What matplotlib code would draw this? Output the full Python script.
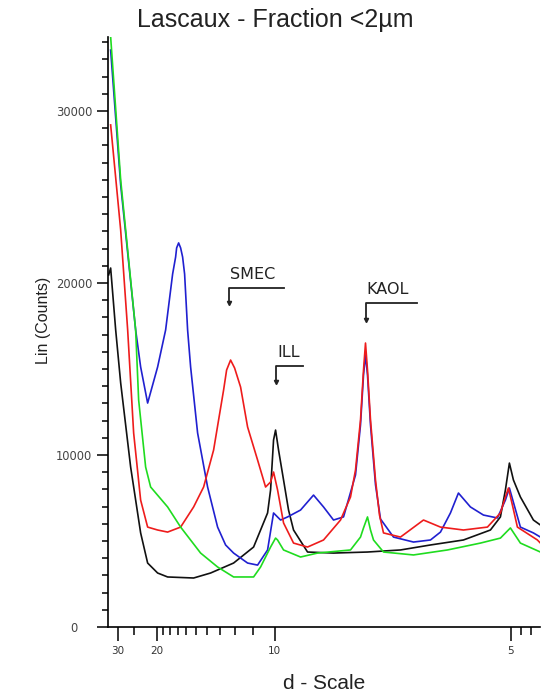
import numpy as np
import matplotlib
matplotlib.use("Agg")
import matplotlib.pyplot as plt
from matplotlib.ticker import FixedLocator, NullFormatter

# XRD patterns, x in degrees 2-theta (Cu K-alpha), y in counts
black_2t = [2.594, 2.669, 2.858, 3.046, 3.421, 3.797, 4.060, 4.436, 4.812, 5.790, 6.429, 7.294,
            8.046, 8.572, 8.685, 8.797, 8.873, 8.985, 9.173, 9.361, 9.549, 10.076, 11.053,
            12.331, 13.572, 14.700, 15.940, 16.955, 17.331, 17.519, 17.669, 17.820, 18.083,
            18.572, 18.835]
black_cts = [20470, 20870, 17270, 14190, 9300, 5470, 3720, 3140, 2910, 2850, 3140, 3720,
             4650, 6630, 7970, 10870, 11450, 10290, 8550, 6800, 5640, 4360, 4300,
             4360, 4480, 4770, 5060, 5640, 6400, 7970, 9530, 8550, 7560,
             6220, 5930]

blue_2t = [2.669, 3.046, 3.609, 3.797, 4.060, 4.436, 4.737, 5.000, 5.113, 5.151, 5.226, 5.301,
           5.376, 5.451, 5.564, 5.677, 5.940, 6.316, 6.692, 6.993, 7.294, 7.820, 8.196, 8.572,
           8.797, 9.061, 9.324, 9.812, 10.301, 10.677, 11.053, 11.429, 11.880, 12.068, 12.181,
           12.256, 12.331, 12.444, 12.632, 12.820, 13.309, 14.061, 14.700, 15.076, 15.451,
           15.752, 16.203, 16.692, 17.218, 17.519, 17.669, 18.083, 18.572, 18.835]
blue_cts = [33540, 25700, 17270, 15120, 13020, 15120, 17270, 20520, 21510, 22040, 22330, 22040,
            21510, 20520, 17270, 15120, 11280, 8140, 5810, 4770, 4300, 3720, 3600, 4480,
            6630, 6220, 6400, 6800, 7670, 6980, 6220, 6400, 8840, 11750, 14650,
            15810, 14650, 11750, 8270, 6280, 5230, 4940, 5060, 5520, 6630,
            7790, 6980, 6510, 6340, 7380, 8080, 5810, 5470, 5230]

red_2t = [2.669, 3.046, 3.309, 3.534, 3.797, 4.060, 4.436, 4.812, 5.301, 5.790, 6.166, 6.542,
          6.730, 6.918, 7.031, 7.181, 7.331, 7.557, 7.820, 8.196, 8.497, 8.685, 8.797, 8.948,
          9.173, 9.549, 10.076, 10.677, 11.316, 11.692, 11.880, 12.068, 12.181, 12.256, 12.331,
          12.444, 12.632, 12.782, 12.933, 13.572, 14.437, 15.076, 15.940, 16.842, 17.331,
          17.519, 17.632, 17.782, 17.970, 18.722, 18.835]
red_cts = [29190, 23080, 17270, 11280, 7380, 5810, 5640, 5520, 5810, 6980, 8140, 10290,
           12040, 13780, 14940, 15520, 15060, 13950, 11630, 9710, 8140, 8430, 9010, 7970,
           6050, 4880, 4650, 5060, 6220, 7560, 9130, 12040, 14940, 16510, 14940,
           12040, 8550, 6510, 5470, 5230, 6220, 5810, 5640, 5810, 6630,
           7560, 8080, 7090, 5810, 5060, 4880]

green_2t = [2.669, 3.046, 3.609, 3.722, 3.985, 4.173, 4.812, 5.301, 6.053, 6.692, 7.294, 8.046,
            8.309, 8.685, 8.873, 8.948, 9.173, 9.812, 10.451, 11.692, 12.068, 12.181, 12.331,
            12.444, 12.557, 12.933, 14.061, 15.339, 16.579, 17.331, 17.707, 18.083, 18.835]
green_cts = [34300, 25990, 17270, 13200, 9300, 8140, 6980, 5810, 4300, 3490, 2910, 2910,
             3490, 4650, 5170, 5060, 4480, 4070, 4300, 4480, 5230, 5760, 6400,
             5640, 5060, 4360, 4190, 4480, 4880, 5170, 5760, 4880, 4360]

# d-spacing tick labels (Angstrom)
d_major = [30, 20, 10, 5]
d_minor = [25, 19, 18, 17, 16, 15, 14, 13, 12, 11, 4.9, 4.8, 4.7]

# mineral markers: label, 2-theta of arrow, right end of bracket, bracket height, tip height
minerals = ["SMEC", "ILL", "KAOL"]
mineral_2t = [7.106, 8.873, 12.256]
mineral_end = [9.173, 9.888, 14.211]
mineral_top = [19710, 15170, 18840]
mineral_tip = [18840, 14240, 17850]

WAVELENGTH = 1.5406


def d_to_2theta(d):
    return np.degrees(2 * np.arcsin(WAVELENGTH / (2 * np.asarray(d, dtype=float))))


plt.rcParams['font.family'] = ['Liberation Sans', 'DejaVu Sans']

fig = plt.figure(figsize=(5.42, 6.93), dpi=100)
ax = fig.add_axes([0.1993, 0.0952, 0.797, 0.8514])

ax.plot(black_2t, black_cts, color='#111111', lw=1.2)
ax.plot(blue_2t, blue_cts, color='#2020d0', lw=1.2)
ax.plot(red_2t, red_cts, color='#ee1c1c', lw=1.2)
ax.plot(green_2t, green_cts, color='#1fdc1f', lw=1.2)

for name, x0, x1, ytop, ytip in zip(minerals, mineral_2t, mineral_end, mineral_top, mineral_tip):
    ax.plot([x1, x0, x0], [ytop, ytop, ytip], color='#222222', lw=1.3)
    ax.plot([x0], [ytip], marker='v', ms=3, color='#222222')
    ax.text(x0 + 0.05, ytop + 350, name, fontsize=11.5, color='#222222',
            family='DejaVu Sans', ha='left', va='bottom')

ax.set_xlim(2.57, 18.82)
ax.set_ylim(0, 34300)

for side in ['top', 'right']:
    ax.spines[side].set_visible(False)
for side in ['left', 'bottom']:
    ax.spines[side].set_linewidth(1.2)

ax.xaxis.set_major_locator(FixedLocator(d_to_2theta(d_major)))
ax.set_xticklabels([str(d) for d in d_major], family='DejaVu Sans')
ax.xaxis.set_minor_locator(FixedLocator(d_to_2theta(d_minor)))
ax.xaxis.set_minor_formatter(NullFormatter())
ax.tick_params(axis='x', which='major', length=10, width=1.1, pad=4,
               labelsize=7.5, labelcolor='#333333')
ax.tick_params(axis='x', which='minor', length=5.5, width=1.1)

ax.yaxis.set_major_locator(FixedLocator([0, 10000, 20000, 30000]))
ax.set_yticklabels(['0', '10000', '20000', '30000'], family='DejaVu Sans')
ax.yaxis.set_minor_locator(FixedLocator(np.arange(1000, 34001, 1000)))
ax.tick_params(axis='y', which='major', length=8, width=1.1, pad=3.5,
               labelsize=8.3, labelcolor='#444444')
ax.tick_params(axis='y', which='minor', length=4.3, width=1.1)
ax.yaxis.get_major_ticks()[0].set_pad(14)

fig.text(0.508, 0.971, "Lascaux - Fraction <2\u00b5m", fontsize=18, color='#222222',
         ha='center', va='center')
fig.text(0.598, 0.0144, "d - Scale", fontsize=15, color='#222222', ha='center', va='center')
fig.text(0.081, 0.538, "Lin (Counts)", fontsize=11.5, color='#222222', ha='center',
         va='center', rotation=90)

fig.savefig("out.png", dpi=100)
